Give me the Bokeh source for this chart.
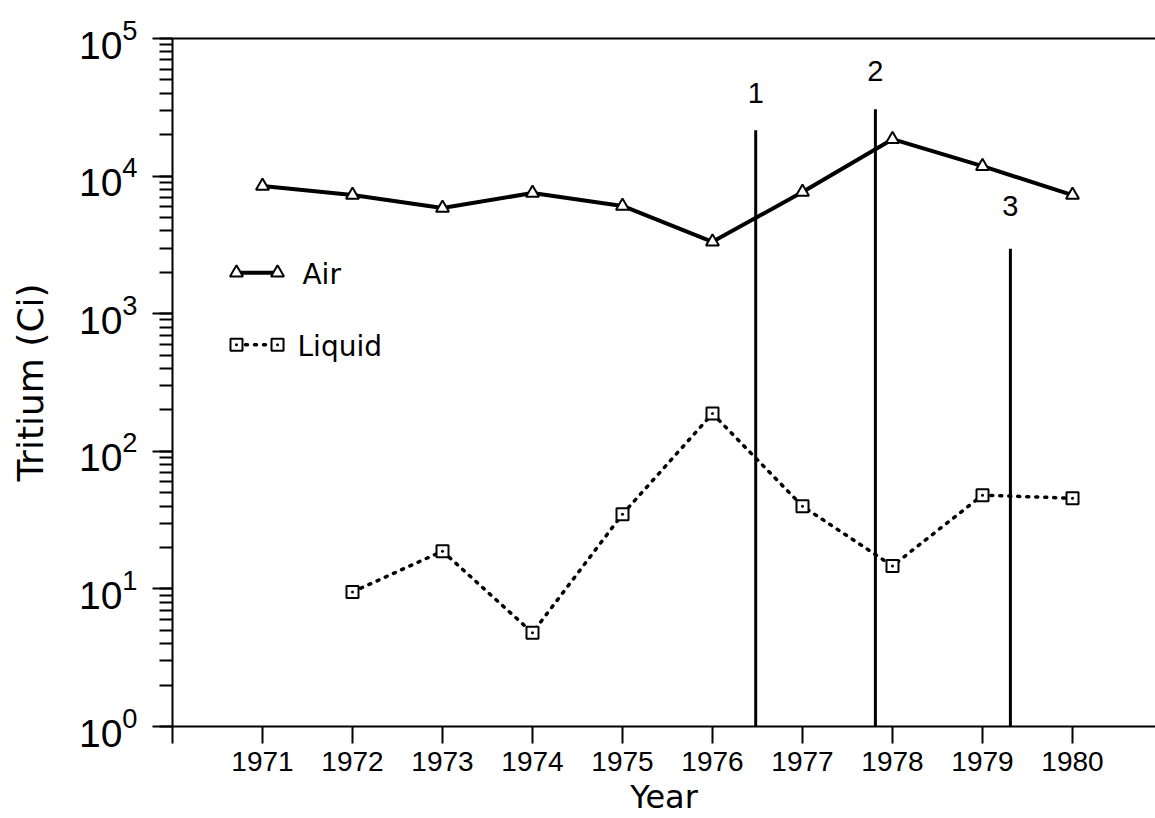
from bokeh.plotting import figure
from bokeh.models import Range1d, FixedTicker, LinearAxis, ColumnDataSource
from bokeh.embed import file_html
from bokeh.resources import INLINE
from bokeh.core.properties import value

# ---------------- data ----------------
air_years = [1971, 1972, 1973, 1974, 1975, 1976, 1977, 1978, 1979, 1980]
air_ci = [8465, 7280, 5860, 7530, 6070, 3330, 7660, 18540, 11810, 7280]

liquid_years = [1972, 1973, 1974, 1975, 1976, 1977, 1978, 1979, 1980]
liquid_ci = [9.5, 18.8, 4.8, 34.9, 188, 39.9, 14.7, 48, 45.6]

event_year = [1976.48, 1977.81, 1979.31]
event_top = [21500, 30600, 2960]
event_names = ["1", "2", "3"]
event_name_y = [39900, 57600, 6070]

x_ticks = [1970, 1971, 1972, 1973, 1974, 1975, 1976, 1977, 1978, 1979, 1980]

# ---------------- style / layout ----------------
DIGIT_FONT = "Liberation Sans"
WORD_FONT = "DejaVu Sans"
PX_PER_YEAR = 90
FRAME_W = 1155 - 172

p = figure(width=1155, height=818,
           x_range=Range1d(1970, 1970 + FRAME_W / PX_PER_YEAR),
           y_range=Range1d(1, 1e5), y_axis_type="log",
           output_backend="svg", toolbar_location=None,
           min_border_left=172, min_border_right=0,
           min_border_top=38, min_border_bottom=90)
p.xgrid.visible = False
p.ygrid.visible = False
p.outline_line_color = None
p.background_fill_color = "white"
p.border_fill_color = "white"

# x axis
xa = p.xaxis[0]
xa.ticker = FixedTicker(ticks=x_ticks, minor_ticks=[])
xa.major_label_overrides = {1970: ""}
xa.major_tick_out = 17
xa.major_tick_in = 0
xa.major_tick_line_width = 2
xa.axis_line_width = 2
xa.major_label_standoff = 8
xa.major_label_text_font = DIGIT_FONT
xa.major_label_text_font_size = "28px"
xa.major_label_text_color = "black"
xa.axis_line_color = "black"
xa.major_tick_line_color = "black"
xa.axis_label = "Year"
xa.axis_label_text_font = WORD_FONT
xa.axis_label_text_font_size = "32px"
xa.axis_label_text_font_style = "normal"
xa.axis_label_text_color = "black"
xa.axis_label_standoff = 4

# y axis
ya = p.yaxis[0]
ya.major_tick_out = 20
ya.major_tick_in = 0
ya.minor_tick_out = 13
ya.minor_tick_in = 0
ya.major_tick_line_width = 2
ya.minor_tick_line_width = 2
ya.axis_line_width = 2
ya.axis_line_color = "black"
ya.major_tick_line_color = "black"
ya.minor_tick_line_color = "black"
ya.major_label_standoff = 15
ya.major_label_text_font = DIGIT_FONT
ya.major_label_text_font_size = "39px"
ya.major_label_text_color = "black"
ya.axis_label = "Tritium (Ci)"
ya.axis_label_text_font = WORD_FONT
ya.axis_label_text_font_size = "36px"
ya.axis_label_text_font_style = "normal"
ya.axis_label_text_color = "black"
ya.axis_label_standoff = 25

# top frame line
top = LinearAxis(ticker=FixedTicker(ticks=[], minor_ticks=[]),
                 major_tick_out=0, major_tick_in=0, minor_tick_out=0, minor_tick_in=0,
                 axis_line_width=2, axis_line_color="black",
                 major_label_text_font_size="0px", major_label_standoff=0)
p.add_layout(top, "above")

# event lines
ev = ColumnDataSource(dict(x=event_year, top=event_top, bottom=[1] * len(event_year),
                           name=event_names, ny=event_name_y))
p.segment(x0="x", y0="bottom", x1="x", y1="top", source=ev, line_color="black", line_width=3)
p.text(x="x", y="ny", text="name", source=ev, text_align="center", text_baseline="middle",
       text_font=value(DIGIT_FONT), text_font_size="29px", text_color="black")

# series
p.line(liquid_years, liquid_ci, line_color="black", line_width=3.5, line_dash="2 7", line_cap="round")
p.line(air_years, air_ci, line_color="black", line_width=4)
p.scatter(liquid_years, liquid_ci, marker="square_dot", size=12, fill_color="white",
          line_color="black", line_width=2)
p.scatter(air_years, air_ci, marker="triangle", size=13, fill_color="white",
          line_color="black", line_width=2)

# legend (key positions)
LEG_X = [1970.711, 1971.167]
LEG_AIR_Y = 1982
LEG_LIQ_Y = 596
p.line(LEG_X, [LEG_AIR_Y, LEG_AIR_Y], line_color="black", line_width=4)
p.scatter(LEG_X, [LEG_AIR_Y, LEG_AIR_Y], marker="triangle", size=13, fill_color="white",
          line_color="black", line_width=2)
p.line(LEG_X, [LEG_LIQ_Y, LEG_LIQ_Y], line_color="black", line_width=3.5, line_dash="2 7", line_cap="round")
p.scatter(LEG_X, [LEG_LIQ_Y, LEG_LIQ_Y], marker="square_dot", size=12, fill_color="white",
          line_color="black", line_width=2)
p.text(x=[1971.444, 1971.389], y=[1919, 577], text=["Air", "Liquid"],
       text_baseline="middle", text_align="left",
       text_font=value(WORD_FONT), text_font_size="28px", text_color="black")

open("out.html", "w").write(file_html(p, INLINE))
